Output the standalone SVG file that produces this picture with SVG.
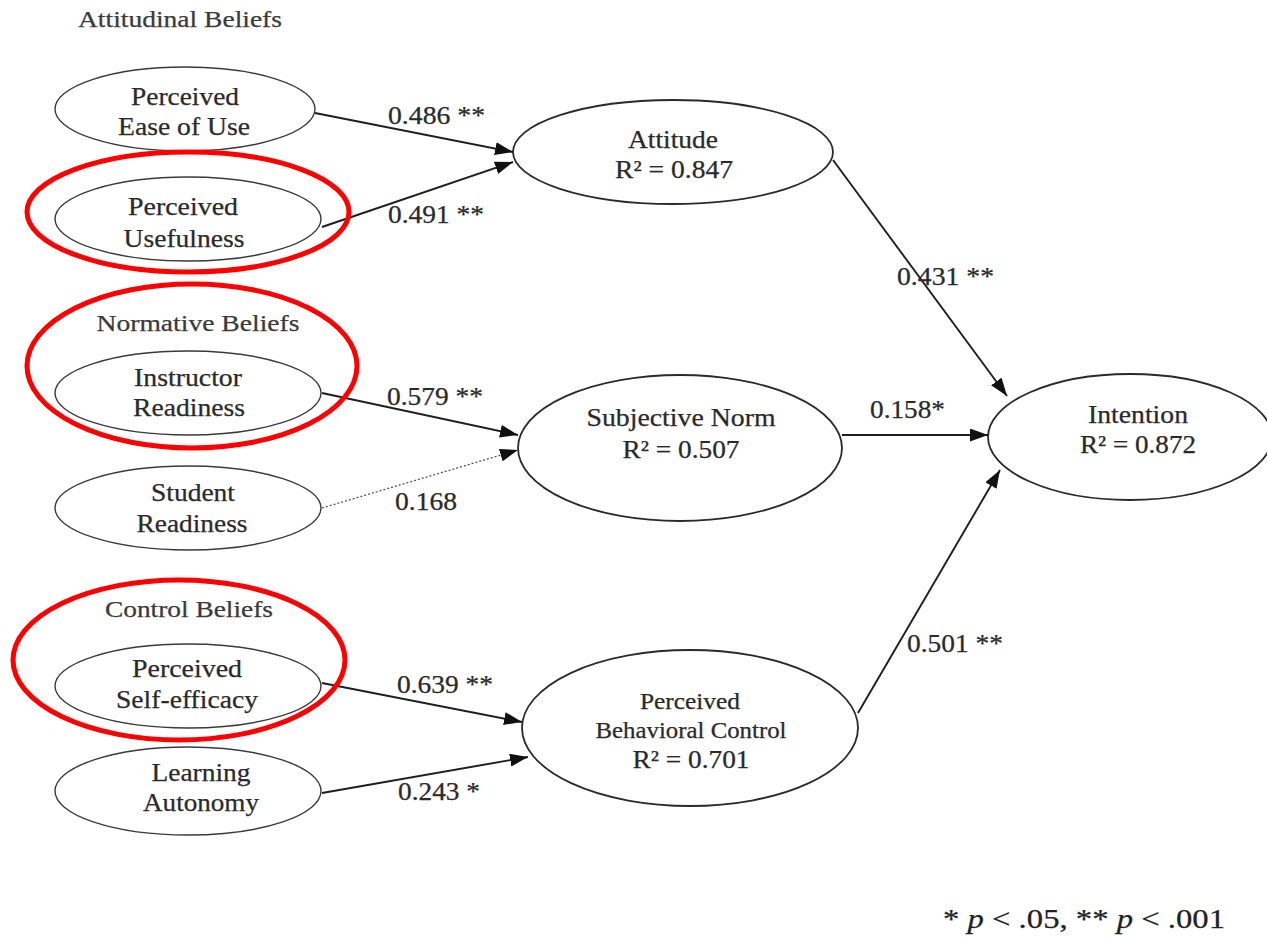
<svg xmlns="http://www.w3.org/2000/svg" width="1267" height="940" viewBox="0 0 1267 940">
<style>
text{font-family:"Liberation Serif","Times New Roman",serif;fill:#2a2a2a;text-anchor:middle;font-size:25px;stroke:#2a2a2a;stroke-width:0.25}
.hdr{font-size:24px;fill:#3a3a3a;stroke:#3a3a3a}
.small{font-size:23px}
.lbl{text-anchor:start;font-size:25px}
.note{text-anchor:start;font-size:28px;fill:#222;stroke:#222}
.node{fill:#fff;stroke:#3a3a3a;stroke-width:1.4}
.big{stroke-width:1.8;stroke:#2a2a2a}
.hl{fill:none;stroke:#f00;stroke-width:5}
.edge{stroke:#1e1e1e;stroke-width:1.9;fill:none;marker-end:url(#arr)}
.dot{stroke:#555;stroke-width:1.3;stroke-dasharray:2 2}
</style>
<defs>
<marker id="arr" markerUnits="userSpaceOnUse" markerWidth="20" markerHeight="14" refX="18" refY="6.5" orient="auto">
<path d="M0,0 L18,6.5 L0,13 z" fill="#111"/>
</marker>
</defs>
<rect width="1267" height="940" fill="#fff"/>

<text class="hdr" x="180" y="27" textLength="204" lengthAdjust="spacingAndGlyphs">Attitudinal Beliefs</text>
<text class="hdr" x="198" y="331" textLength="203" lengthAdjust="spacingAndGlyphs">Normative Beliefs</text>
<text class="hdr" x="189" y="617" textLength="168" lengthAdjust="spacingAndGlyphs">Control Beliefs</text>

<g id="n-peou">
<ellipse class="node" cx="185" cy="109" rx="130" ry="42"/>
<text x="185" y="105" textLength="108" lengthAdjust="spacingAndGlyphs">Perceived</text>
<text x="184" y="135" textLength="132" lengthAdjust="spacingAndGlyphs">Ease of Use</text>
</g>
<g id="n-pu">
<ellipse class="node" cx="188" cy="219" rx="133" ry="42"/>
<text x="183" y="215" textLength="110" lengthAdjust="spacingAndGlyphs">Perceived</text>
<text x="184" y="247" textLength="121" lengthAdjust="spacingAndGlyphs">Usefulness</text>
</g>
<g id="n-ir">
<ellipse class="node" cx="188" cy="393" rx="133" ry="42"/>
<text x="188" y="386" textLength="108" lengthAdjust="spacingAndGlyphs">Instructor</text>
<text x="189" y="416" textLength="112" lengthAdjust="spacingAndGlyphs">Readiness</text>
</g>
<g id="n-sr">
<ellipse class="node" cx="188" cy="508" rx="133" ry="42"/>
<text x="193" y="501" textLength="84" lengthAdjust="spacingAndGlyphs">Student</text>
<text x="192" y="532" textLength="111" lengthAdjust="spacingAndGlyphs">Readiness</text>
</g>
<g id="n-pse">
<ellipse class="node" cx="188" cy="686" rx="133" ry="42"/>
<text x="187" y="677" textLength="110" lengthAdjust="spacingAndGlyphs">Perceived</text>
<text x="187" y="708" textLength="142" lengthAdjust="spacingAndGlyphs">Self-efficacy</text>
</g>
<g id="n-la">
<ellipse class="node" cx="188" cy="791" rx="133" ry="44"/>
<text x="201" y="781" textLength="99" lengthAdjust="spacingAndGlyphs">Learning</text>
<text x="201" y="811" textLength="116" lengthAdjust="spacingAndGlyphs">Autonomy</text>
</g>
<g id="n-att">
<ellipse class="node big" cx="673" cy="152" rx="160" ry="52"/>
<text x="673" y="148" textLength="90" lengthAdjust="spacingAndGlyphs">Attitude</text>
<text x="674" y="178" textLength="118" lengthAdjust="spacingAndGlyphs">R² = 0.847</text>
</g>
<g id="n-sn">
<ellipse class="node big" cx="680" cy="448" rx="162" ry="73"/>
<text x="681" y="426" textLength="189" lengthAdjust="spacingAndGlyphs">Subjective Norm</text>
<text x="681" y="458" textLength="117" lengthAdjust="spacingAndGlyphs">R² = 0.507</text>
</g>
<g id="n-pbc">
<ellipse class="node big" cx="690" cy="728" rx="168" ry="78"/>
<text class="small" x="690" y="709" textLength="100" lengthAdjust="spacingAndGlyphs">Perceived</text>
<text class="small" x="691" y="738" textLength="191" lengthAdjust="spacingAndGlyphs">Behavioral Control</text>
<text x="691" y="768" textLength="117" lengthAdjust="spacingAndGlyphs">R² = 0.701</text>
</g>
<g id="n-int">
<ellipse class="node big" cx="1130" cy="437" rx="142" ry="63"/>
<text x="1138" y="423" textLength="100" lengthAdjust="spacingAndGlyphs">Intention</text>
<text x="1138" y="453" textLength="116" lengthAdjust="spacingAndGlyphs">R² = 0.872</text>
</g>

<g id="connectors">
<line class="edge" x1="315" y1="113" x2="513" y2="152"/>
<line class="edge" x1="322" y1="227" x2="513" y2="162"/>
<line class="edge" x1="833" y1="160" x2="1007" y2="396"/>
<line class="edge" x1="322" y1="393" x2="518" y2="435"/>
<line class="edge dot" x1="322" y1="508" x2="518" y2="450"/>
<line class="edge" x1="842" y1="435" x2="988" y2="435"/>
<line class="edge" x1="858" y1="713" x2="1000" y2="470"/>
<line class="edge" x1="322" y1="683" x2="522" y2="722"/>
<line class="edge" x1="322" y1="793" x2="528" y2="757"/>
<text class="lbl" x="388" y="124" textLength="97" lengthAdjust="spacingAndGlyphs">0.486 **</text>
<text class="lbl" x="388" y="223" textLength="96" lengthAdjust="spacingAndGlyphs">0.491 **</text>
<text class="lbl" x="897" y="285" textLength="97" lengthAdjust="spacingAndGlyphs">0.431 **</text>
<text class="lbl" x="387" y="405" textLength="96" lengthAdjust="spacingAndGlyphs">0.579 **</text>
<text class="lbl" x="395" y="510" textLength="62" lengthAdjust="spacingAndGlyphs">0.168</text>
<text class="lbl" x="870" y="418" textLength="75" lengthAdjust="spacingAndGlyphs">0.158*</text>
<text class="lbl" x="907" y="652" textLength="96" lengthAdjust="spacingAndGlyphs">0.501 **</text>
<text class="lbl" x="397" y="693" textLength="96" lengthAdjust="spacingAndGlyphs">0.639 **</text>
<text class="lbl" x="398" y="800" textLength="82" lengthAdjust="spacingAndGlyphs">0.243 *</text>
</g>

<g id="highlights">
<ellipse class="hl" cx="188" cy="212" rx="161" ry="60"/>
<ellipse class="hl" cx="192" cy="366" rx="165" ry="82"/>
<ellipse class="hl" cx="179" cy="660" rx="166" ry="80"/>
</g>

<text class="note" x="943" y="928" textLength="282" lengthAdjust="spacingAndGlyphs">* <tspan font-style="italic">p</tspan> &lt; .05, ** <tspan font-style="italic">p</tspan> &lt; .001</text>
</svg>
